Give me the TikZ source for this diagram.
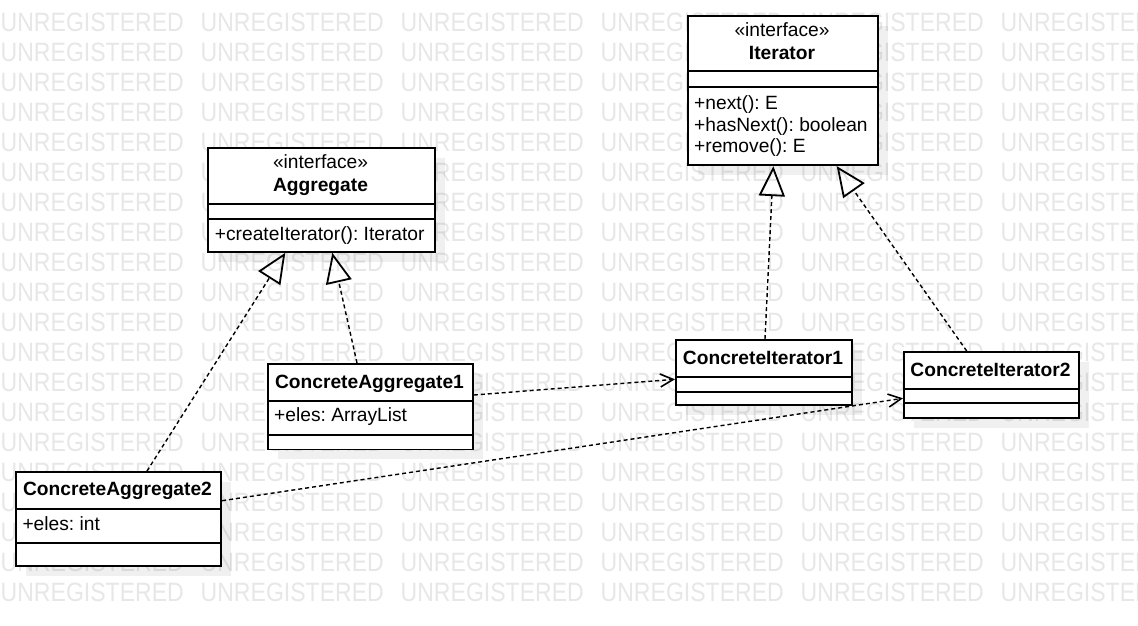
\documentclass[tikz,border=0pt]{standalone}
\usepackage{fontspec}
\setmainfont{Liberation Sans}
\usetikzlibrary{arrows.meta,calc,shadows}
\definecolor{wmgray}{RGB}{231,231,231}
\frenchspacing
\begin{document}
\begin{tikzpicture}[x=1pt,y=-1pt,
 box/.style={draw=black, fill=white, line width=1.8pt, inner sep=0pt, anchor=north west,
   drop shadow={shadow xshift=10pt, shadow yshift=-10pt, fill=black, opacity=0.06}},
 sepline/.style={line width=1.8pt},
 txt/.style={inner sep=0pt, font=\fontsize{19.2}{22}\selectfont},
 bold/.style={inner sep=0pt, font=\fontsize{19.2}{22}\selectfont\bfseries},
 wm/.style={inner sep=0pt, anchor=base west, text=wmgray, font=\fontsize{26.5}{30}\selectfont},
 realize/.style={line width=1.4pt, dash pattern=on 4pt off 3pt,
   -{Triangle[open, length=30pt, width=26pt, line width=1.8pt]}},
 dep/.style={line width=1.4pt, dash pattern=on 4pt off 3pt,
   -{Straight Barb[length=13pt, width=13pt, line width=1.6pt]}}]
\useasboundingbox (0,0) rectangle (1138,625);
\fill[white] (0,0) rectangle (1138,625);
% watermark
\begin{scope}
\clip (0,0) rectangle (1138,625);
\foreach \r in {0,...,19}{
  \foreach \c in {0,...,5}{
    \node[wm] (wm-\r-\c) at (200*\c+0.5, 31+30*\r) {\scalebox{0.87}[1]{UNREGISTERED}};
  }
}
\end{scope}
% boxes
\node[box, minimum width=227pt, minimum height=104pt] (agg) at (207,147) {};
\draw[sepline] ($(agg.north west)+(0,56.7)$) -- ($(agg.north east)+(0,56.7)$);
\draw[sepline] ($(agg.north west)+(0,72)$) -- ($(agg.north east)+(0,72)$);

\node[box, minimum width=190pt, minimum height=149.3pt] (it) at (687,15) {};
\draw[sepline] ($(it.north west)+(0,56.3)$) -- ($(it.north east)+(0,56.3)$);
\draw[sepline] ($(it.north west)+(0,71.7)$) -- ($(it.north east)+(0,71.7)$);

\node[box, minimum width=205pt, minimum height=85.5pt] (ca1) at (267,363) {};
\draw[sepline] ($(ca1.north west)+(0,38)$) -- ($(ca1.north east)+(0,38)$);
\draw[sepline] ($(ca1.north west)+(0,72.3)$) -- ($(ca1.north east)+(0,72.3)$);

\node[box, minimum width=176pt, minimum height=65.3pt] (ci1) at (675,339) {};
\draw[sepline] ($(ci1.north west)+(0,37.7)$) -- ($(ci1.north east)+(0,37.7)$);
\draw[sepline] ($(ci1.north west)+(0,52.7)$) -- ($(ci1.north east)+(0,52.7)$);

\node[box, minimum width=175pt, minimum height=65.7pt] (ci2) at (903,351) {};
\draw[sepline] ($(ci2.north west)+(0,38)$) -- ($(ci2.north east)+(0,38)$);
\draw[sepline] ($(ci2.north west)+(0,51.7)$) -- ($(ci2.north east)+(0,51.7)$);

\node[box, minimum width=205.3pt, minimum height=94pt] (ca2) at (15,471) {};
\draw[sepline] ($(ca2.north west)+(0,37.7)$) -- ($(ca2.north east)+(0,37.7)$);
\draw[sepline] ($(ca2.north west)+(0,72)$) -- ($(ca2.north east)+(0,72)$);

% texts
\node[txt, anchor=base] (aggST) at (320.5,168.3) {«interface»};
\node[bold, anchor=base] (aggN) at (320.5,191) {Aggregate};
\node[txt, anchor=base west] (aggM) at (214.7,240.7) {+createIterator(): Iterator};

\node[txt, anchor=base] (itST) at (782,36) {«interface»};
\node[bold, anchor=base] (itN) at (782,59) {Iterator};
\node[txt, anchor=base west] (itM1) at (694,109.5) {+next(): E};
\node[txt, anchor=base west] (itM2) at (694,131) {+hasNext(): boolean};
\node[txt, anchor=base west] (itM3) at (694,152.5) {+remove(): E};

\node[bold, anchor=base] (ca1N) at (369.5,388.3) {ConcreteAggregate1};
\node[txt, anchor=base west] (ca1A) at (274,421.7) {+eles: ArrayList};

\node[bold, anchor=base] (ci1N) at (763,364.3) {ConcreteIterator1};
\node[bold, anchor=base] (ci2N) at (990.5,376) {ConcreteIterator2};

\node[bold, anchor=base] (ca2N) at (117.5,495.7) {ConcreteAggregate2};
\node[txt, anchor=base west] (ca2A) at (22.3,530) {+eles: int};

% connectors
\draw[realize] ($(ca1.north west)+(90,0)$) -- ($(agg.south west)+(125.3,0)$);
\draw[realize] ($(ca2.north west)+(132,0)$) -- ($(agg.south west)+(78.3,0)$);
\draw[realize] ($(ci1.north west)+(90,0)$) -- ($(it.south west)+(86.3,0)$);
\draw[realize] ($(ci2.north west)+(63.7,0)$) -- ($(it.south west)+(149.7,0)$);
\draw[dep] ($(ca1.north east)+(0,32)$) -- ($(ci1.north west)+(0,40.3)$);
\draw[dep] ($(ca2.north east)+(0,29.7)$) -- ($(ci2.north west)+(0,47.3)$);
\end{tikzpicture}
\end{document}
